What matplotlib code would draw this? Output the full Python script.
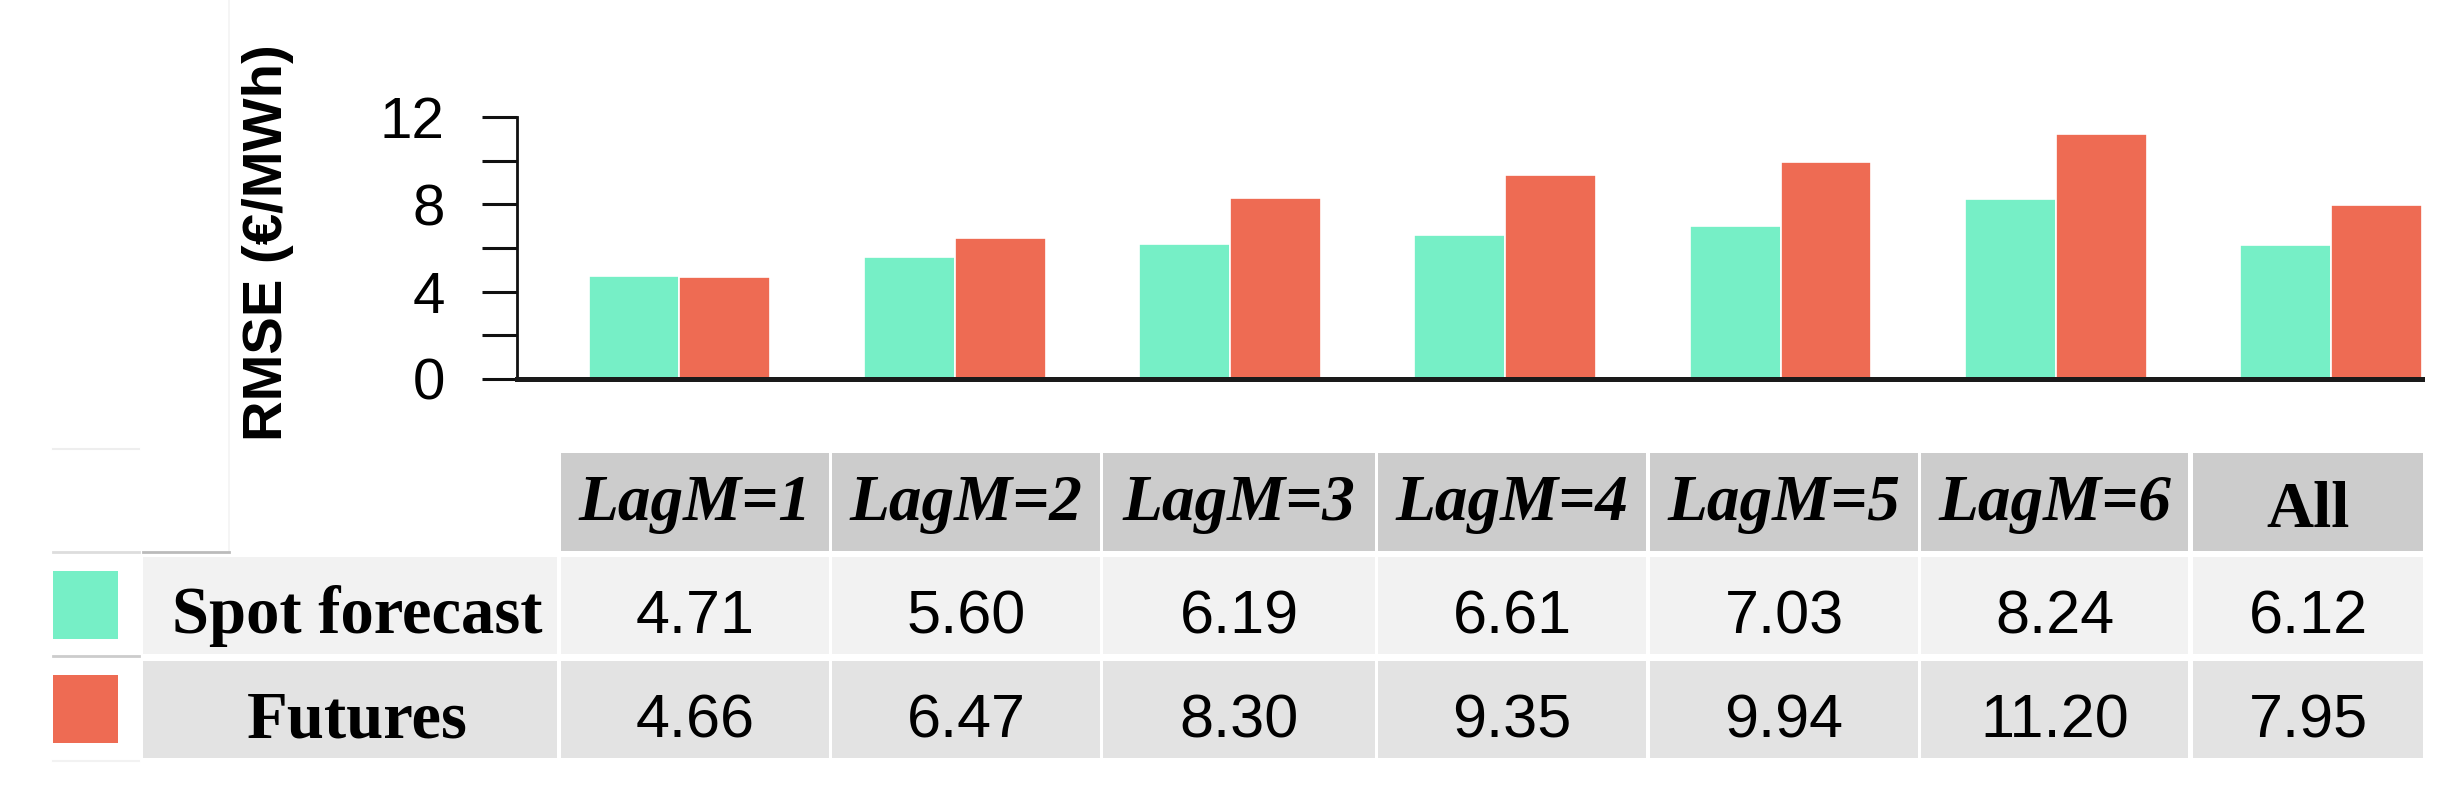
import matplotlib
matplotlib.use("Agg")
import matplotlib.pyplot as plt
from matplotlib.patches import Rectangle
from matplotlib.lines import Line2D
import numpy as np

# ---- data ----
categories = ["LagM=1", "LagM=2", "LagM=3", "LagM=4", "LagM=5", "LagM=6", "All"]
series_names = ["Spot forecast", "Futures"]
spot_values = [4.71, 5.60, 6.19, 6.61, 7.03, 8.24, 6.12]
futures_values = [4.66, 6.47, 8.30, 9.35, 9.94, 11.20, 7.95]
y_ticks_major = [0, 4, 8, 12]
y_ticks_minor = [2, 6, 10]
y_label = "RMSE (€/MWh)"

GREEN = "#76efc6"
RED = "#ee6b53"

W, H = 2453, 795
DPI = 100
fig = plt.figure(figsize=(W / DPI, H / DPI), dpi=DPI)
fig.patch.set_facecolor("white")

def fx(px):
    return px / W

def fy(py):
    return 1 - py / H

# ---- bar axes ----
ax_left, ax_right, ax_top, ax_bot = 517, 2422, 117, 379
ax = fig.add_axes([fx(ax_left), fy(ax_bot), (ax_right - ax_left) / W, (ax_bot - ax_top) / H])
x = np.arange(len(categories))
bw = 0.33
ax.bar(x - bw / 2, spot_values, bw, color=GREEN, edgecolor="white", linewidth=1.2, zorder=2)
ax.bar(x + bw / 2, futures_values, bw, color=RED, edgecolor="white", linewidth=1.2, zorder=2)
ax.set_xlim(-0.59, len(categories) - 1 + bw)
ax.set_ylim(0, 12)
ax.set_yticks(y_ticks_major)
ax.set_yticks(y_ticks_minor, minor=True)
ax.set_yticklabels([str(t) for t in y_ticks_major], fontfamily="Liberation Sans", fontsize=42)
ax.tick_params(axis="y", which="both", length=25, width=2.2, direction="out", pad=27, color="#111111")
ax.set_xticks([])
for s in ["top", "right"]:
    ax.spines[s].set_visible(False)
ax.spines["left"].set_linewidth(2.0)
ax.spines["left"].set_color("#111111")
ax.spines["bottom"].set_linewidth(3.6)
ax.spines["bottom"].set_color("#1a1a1a")
ax.spines["bottom"].set_zorder(3)
ax.patch.set_alpha(0)

fig.text(fx(268), fy(243), y_label, rotation=90, ha="center", va="center",
         fontfamily="Liberation Sans", fontweight="bold", fontsize=40.5)

# ---- table (drawn in pixel coordinates on an overlay axes) ----
tab = fig.add_axes([0, 0, 1, 1], zorder=-1)
tab.set_xlim(0, W)
tab.set_ylim(H, 0)
tab.axis("off")

col_edges = [(561, 829), (832, 1100), (1103, 1375), (1378, 1646),
             (1650, 1918), (1921, 2188), (2193, 2423)]
label_col = (143, 557)
row_edges = [(453, 551), (557, 654), (661, 758)]
row_fills = ["#cccccc", "#f2f2f2", "#e3e3e3"]
row_baselines = [520, 633, 738]
SERIF = "Liberation Serif"

# header row
for (x0, x1), cat in zip(col_edges, categories):
    y0, y1 = row_edges[0]
    tab.add_patch(Rectangle((x0, y0), x1 - x0, y1 - y0, facecolor=row_fills[0], edgecolor="none"))
    if cat.startswith("LagM"):
        tab.text((x0 + x1) / 2, row_baselines[0], cat, ha="center", va="baseline",
                 fontfamily=SERIF, fontweight="bold", fontstyle="italic", fontsize=47)
    else:
        tab.text((x0 + x1) / 2, row_baselines[0] + 7, cat, ha="center", va="baseline",
                 fontfamily=SERIF, fontweight="bold", fontsize=47)

# data rows
all_values = [spot_values, futures_values]
colors = [GREEN, RED]
for r, (name, vals, col) in enumerate(zip(series_names, all_values, colors), start=1):
    y0, y1 = row_edges[r]
    yb = row_baselines[r]
    tab.add_patch(Rectangle((label_col[0], y0), label_col[1] - label_col[0], y1 - y0,
                            facecolor=row_fills[r], edgecolor="none"))
    tab.text(357, yb, name, ha="center", va="baseline",
             fontfamily=SERIF, fontweight="bold", fontsize=48)
    for (x0, x1), v in zip(col_edges, vals):
        tab.add_patch(Rectangle((x0, y0), x1 - x0, y1 - y0, facecolor=row_fills[r], edgecolor="none"))
        tab.text((x0 + x1) / 2, yb, f"{v:.2f}", ha="center", va="baseline",
                 fontfamily="Liberation Sans", fontsize=44)
    # legend swatch
    tab.add_patch(Rectangle((53, y0 + 14), 65, (y1 - y0) - 29, facecolor=col, edgecolor="none"))

# faint residual border lines of the original table
tab.add_line(Line2D([229, 229], [0, 552], color="#f4f4f4", lw=1.2))
tab.add_line(Line2D([53, 139], [449, 449], color="#eeeeee", lw=1.5))
tab.add_line(Line2D([53, 139], [552, 552], color="#dddddd", lw=2))
tab.add_line(Line2D([143, 229], [552, 552], color="#bbbbbb", lw=2))
tab.add_line(Line2D([53, 139], [656, 656], color="#cccccc", lw=2))
tab.add_line(Line2D([53, 139], [761, 761], color="#f2f2f2", lw=1.5))

fig.savefig("out.png", dpi=DPI, facecolor="white")
